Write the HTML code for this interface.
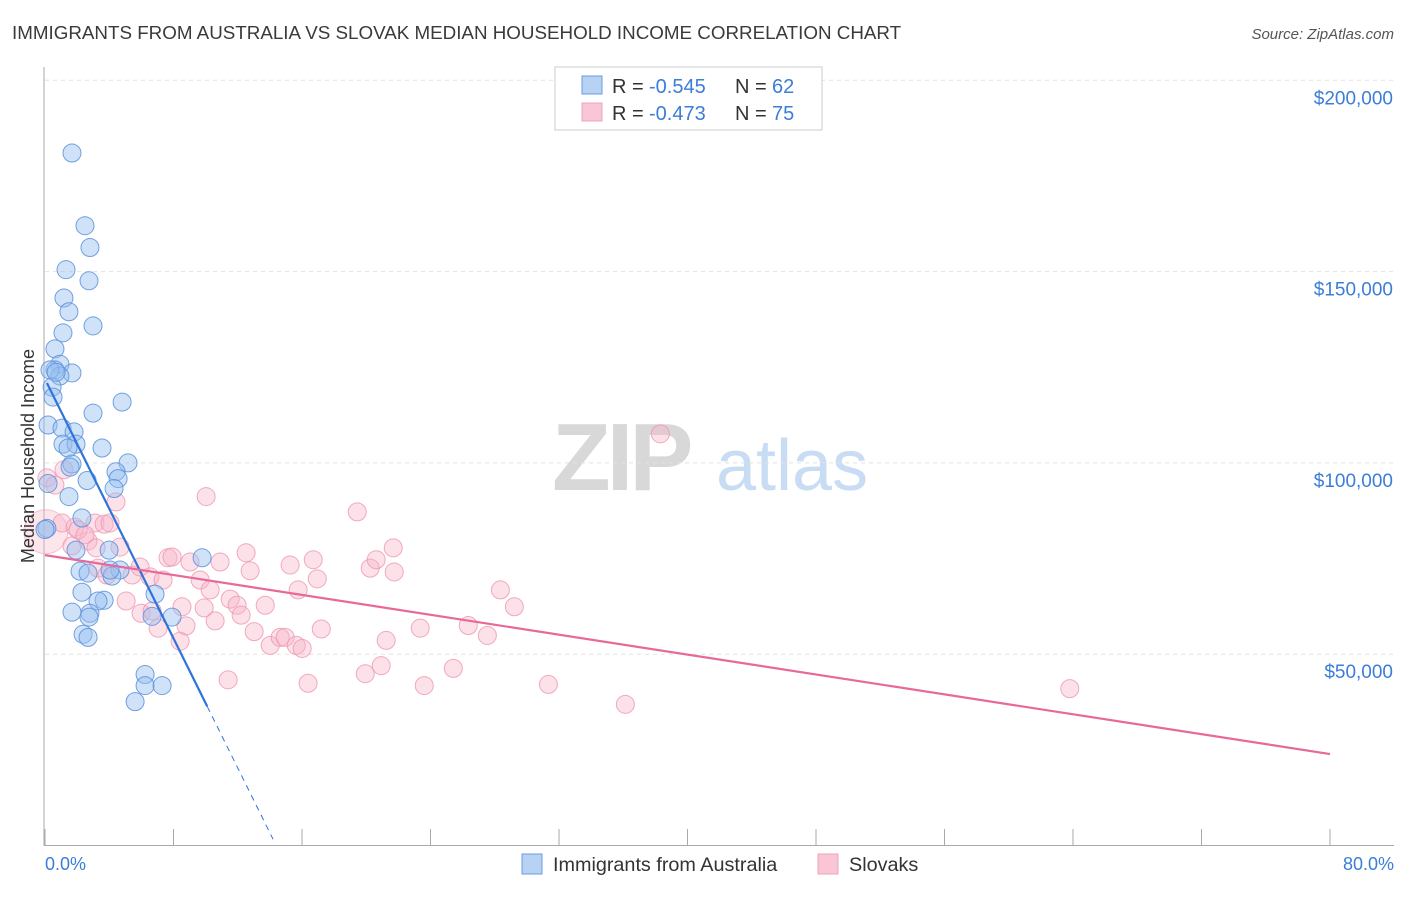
<!DOCTYPE html>
<html><head><meta charset="utf-8"><style>
body{margin:0;background:#fff;font-family:"Liberation Sans",sans-serif}
svg text{font-family:"Liberation Sans",sans-serif}
</style></head><body>
<svg id="chart" width="1406" height="892" viewBox="0 0 1406 892">
<text x="12" y="39" font-size="18.8" fill="#3a3a3a">IMMIGRANTS FROM AUSTRALIA VS SLOVAK MEDIAN HOUSEHOLD INCOME CORRELATION CHART</text>
<text x="1394" y="39" font-size="15" fill="#555" text-anchor="end" font-style="italic">Source: ZipAtlas.com</text>
<g>
<text x="552" y="490" font-size="96" fill="#d8d8d8" font-family="Liberation Serif" font-weight="bold" letter-spacing="-4">ZIP</text>
<text x="716" y="490" font-size="72" fill="#c8dcf4">atlas</text></g>
<g id="grid"></g><g id="axes"></g><g id="pts"></g><g id="lines"></g>
<text transform="translate(34,456) rotate(-90)" font-size="18" fill="#333" text-anchor="middle">Median Household Income</text>
<text x="45" y="870" font-size="18" fill="#3b7dd8">0.0%</text>
<text x="1394" y="870" font-size="18" fill="#3b7dd8" text-anchor="end">80.0%</text>
<g>
<rect x="555" y="67" width="267" height="63" fill="#fff" stroke="#ccc"/>
<rect x="582" y="76" width="20" height="18" fill="#b8d2f4" stroke="#6a9be0"/>
<rect x="582" y="103" width="20" height="18" fill="#f9c6d6" stroke="#f0a0b8"/>
<text x="612" y="93" font-size="20" fill="#333">R =</text><text x="649" y="93" font-size="20" fill="#3b7dd8">-0.545</text>
<text x="735" y="93" font-size="20" fill="#333">N =</text><text x="772" y="93" font-size="20" fill="#3b7dd8">62</text>
<text x="612" y="120" font-size="20" fill="#333">R =</text><text x="649" y="120" font-size="20" fill="#3b7dd8">-0.473</text>
<text x="735" y="120" font-size="20" fill="#333">N =</text><text x="772" y="120" font-size="20" fill="#3b7dd8">75</text></g>
<g>
<rect x="522" y="854" width="20" height="20" fill="#b8d2f4" stroke="#6a9be0"/>
<text x="553" y="871" font-size="19.8" fill="#333">Immigrants from Australia</text>
<rect x="818" y="854" width="20" height="20" fill="#f9c6d6" stroke="#f0a0b8"/>
<text x="849" y="871" font-size="19.8" fill="#333">Slovaks</text></g>
</svg>
<script>
const yTicks=[50000,100000,150000,200000];
const yTickLabels=["$50,000","$100,000","$150,000","$200,000"];
const xTicks=[0,8,16,24,32,40,48,56,64,72,80];
const blueX=[1.68,2.49,2.80,1.31,2.74,1.18,1.49,2.99,1.12,0.62,0.93,0.62,1.68,0.93,0.44,0.5,4.8,2.99,0.19,1.06,1.81,1.12,1.93,1.43,3.55,1.68,5.17,4.42,4.55,2.62,4.3,1.49,0.19,2.3,1.93,3.99,0.12,4.67,2.18,2.68,4.17,6.85,2.3,3.68,3.3,1.68,2.8,2.74,6.67,7.91,2.37,2.68,9.78,6.23,6.23,7.29,5.61,4.05,0,0.31,0.69,1.56];
const blueY=[181.0,162.0,156.3,150.5,147.6,143.1,139.5,135.8,134.0,129.8,125.8,124.3,123.5,122.7,119.8,117.2,115.9,113.0,109.9,109.1,108.1,104.9,104.9,103.9,103.9,99.7,100.0,97.7,95.9,95.4,93.3,91.2,94.6,85.6,77.2,77.2,82.9,72.0,71.7,71.2,70.4,65.7,66.2,64.1,63.9,61.0,60.7,59.7,59.9,59.7,55.2,54.4,75.2,44.7,41.8,41.8,37.6,72.0,82.6,124.3,123.7,98.9];
const pinkX=[0.12,0.62,1.06,1.87,1.68,2.68,3.11,3.68,4.05,4.42,4.67,2.06,2.49,3.3,3.86,5.42,5.05,5.98,6.67,7.04,6.54,7.35,7.66,7.91,8.41,8.78,8.53,9.03,9.66,10.28,10.59,9.91,10.9,11.4,11.53,11.96,12.21,12.52,12.77,13.02,13.71,14.02,14.64,14.95,15.26,15.64,15.76,16.01,16.38,16.7,16.95,17.2,19.44,19.94,20.25,20.62,20.93,21.24,21.68,21.74,23.36,23.61,25.42,26.35,27.54,28.35,29.22,31.34,36.13,38.31,63.8,10.03,3.18,5.92,1.18];
const pinkY=[96.1,94.2,84.3,83.2,78.3,79.6,84.3,84.0,84.3,89.8,78.0,82.5,81.2,72.5,70.7,70.7,63.9,60.7,61.3,56.8,70.2,69.4,75.2,75.4,53.4,57.4,62.4,74.1,69.4,66.8,58.7,62.1,74.1,43.3,64.4,62.8,60.2,76.5,71.8,55.9,62.8,52.3,54.4,54.4,73.3,52.3,66.8,51.5,42.4,74.7,69.7,56.6,87.2,44.9,72.5,74.7,47.0,53.6,77.8,71.5,56.8,41.8,46.3,57.5,54.9,66.8,62.4,42.1,36.9,107.6,41.0,91.2,77.8,72.8,98.2];
const blueTrend=[121.9,-8.47,0.12,10.1,14.2];
const pinkTrend=[75.9,-0.65,0,80];
const X=v=>45+v/80*1285, Y=v=>845.5-v/50000*191.3;
const NS='http://www.w3.org/2000/svg';
function mk(p,t,a){const e=document.createElementNS(NS,t);for(const k in a)e.setAttribute(k,a[k]);p.appendChild(e);return e;}
const grid=document.getElementById('grid'),axes=document.getElementById('axes'),pts=document.getElementById('pts'),lines=document.getElementById('lines');
yTicks.forEach((t,i)=>{const l=mk(grid,'line',{x1:45,x2:1394,y1:Y(t),y2:Y(t),stroke:'#e2e2e2','stroke-dasharray':'4,4'});


const tx=mk(grid,'text',{x:1393,y:Y(t)+24,'font-size':19,fill:'#3b7dd8','text-anchor':'end'});tx.textContent=yTickLabels[i];

});
const ya=mk(axes,'line',{x1:44,x2:44,y1:67,y2:846,stroke:'#aaa'});


const xa=mk(axes,'line',{x1:44,x2:1394,y1:845.5,y2:845.5,stroke:'#aaa'});


xTicks.forEach(t=>{const l=mk(axes,'line',{x1:X(t),x2:X(t),y1:829,y2:846,stroke:'#aaa'});

});
const big=mk(pts,'circle',{cx:X(0.05),cy:Y(82000),r:22,fill:'rgba(248,180,200,0.35)',stroke:'rgba(240,160,184,0.6)'});


pinkX.forEach((x,i)=>{const c=mk(pts,'circle',{cx:X(x),cy:Y(pinkY[i]*1000),r:9,fill:'rgba(248,180,200,0.4)',stroke:'rgba(238,150,178,0.8)'});

});
blueX.forEach((x,i)=>{const c=mk(pts,'circle',{cx:X(x),cy:Y(blueY[i]*1000),r:9,fill:'rgba(150,190,240,0.45)',stroke:'rgba(90,145,220,0.85)'});

});
const bt=v=>(blueTrend[0]+blueTrend[1]*v)*1000;
const b1=mk(lines,'line',{x1:X(blueTrend[2]),y1:Y(bt(blueTrend[2])),x2:X(blueTrend[3]),y2:Y(bt(blueTrend[3])),stroke:'#2f74d8','stroke-width':2.2});


const b2=mk(lines,'line',{x1:X(blueTrend[3]),y1:Y(bt(blueTrend[3])),x2:X(blueTrend[4]),y2:Y(bt(blueTrend[4])),stroke:'#2f74d8','stroke-width':1,'stroke-dasharray':'6,5'});


const pt=v=>(pinkTrend[0]+pinkTrend[1]*v)*1000;
const p1=mk(lines,'line',{x1:X(pinkTrend[2]),y1:Y(pt(pinkTrend[2])),x2:X(pinkTrend[3]),y2:Y(pt(pinkTrend[3])),stroke:'#e8689a','stroke-width':2.2});


</script>
</body></html>
